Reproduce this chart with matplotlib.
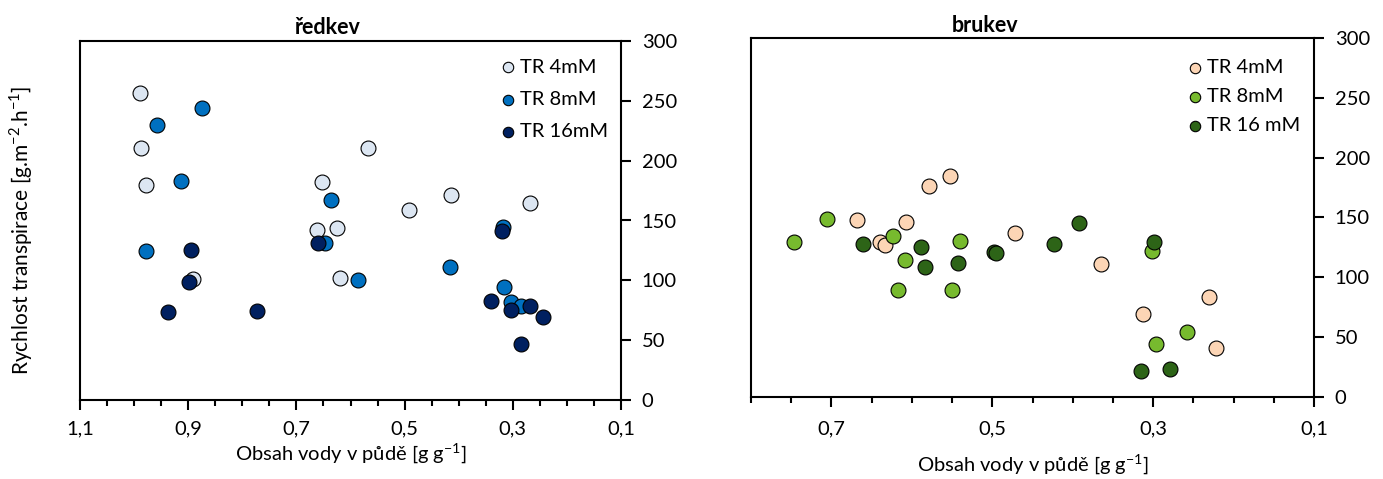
import matplotlib
matplotlib.use("Agg")
import matplotlib.pyplot as plt
from matplotlib.ticker import MultipleLocator

plt.rcParams['font.family'] = ['Lato', 'DejaVu Sans']

# ---- data: ředkev (radish) ----
r4_x = [0.990, 0.988, 0.978, 0.567, 0.652, 0.662, 0.625, 0.892, 0.620, 0.414, 0.268, 0.491]
r4_y = [256.7, 210.5, 179.4, 210.5, 182.0, 142.0, 144.0, 100.8, 102.2, 171.3, 164.8, 158.7]
r8_x = [0.875, 0.958, 0.913, 0.636, 0.648, 0.978, 0.587, 0.318, 0.417, 0.316, 0.304, 0.285]
r8_y = [244.0, 229.7, 183.0, 167.0, 131.0, 124.5, 100.5, 144.8, 111.0, 94.1, 81.6, 78.8]
r16_x = [0.660, 0.894, 0.899, 0.938, 0.772, 0.320, 0.340, 0.268, 0.304, 0.245, 0.285]
r16_y = [131.0, 125.3, 98.8, 73.2, 74.6, 141.4, 82.4, 78.8, 75.2, 69.3, 46.5]

# ---- data: brukev (turnip) ----
b4_x = [0.668, 0.579, 0.552, 0.607, 0.639, 0.634, 0.472, 0.365, 0.230, 0.313, 0.222]
b4_y = [147.9, 176.3, 184.9, 145.9, 129.8, 127.0, 136.7, 111.1, 83.3, 69.3, 41.2]
b8_x = [0.746, 0.705, 0.624, 0.540, 0.609, 0.617, 0.550, 0.301, 0.258, 0.297]
b8_y = [129.5, 148.7, 134.5, 130.6, 114.5, 89.4, 89.7, 122.0, 54.0, 44.0]
b16_x = [0.661, 0.589, 0.584, 0.543, 0.498, 0.495, 0.423, 0.392, 0.299, 0.315, 0.279]
b16_y = [127.8, 125.0, 108.3, 112.2, 121.4, 120.0, 127.5, 145.6, 129.7, 22.0, 23.7]

left_xticks = [1.1, 0.9, 0.7, 0.5, 0.3, 0.1]
left_xlabels = ["1,1", "0,9", "0,7", "0,5", "0,3", "0,1"]
right_xticks = [0.7, 0.5, 0.3, 0.1]
right_xlabels = ["0,7", "0,5", "0,3", "0,1"]
yticks = [0, 50, 100, 150, 200, 250, 300]

W, H = 1383, 479
fig = plt.figure(figsize=(W / 100, H / 100), dpi=100)

def frac(x0, y0, x1, y1):
    return [x0 / W, 1 - y1 / H, (x1 - x0) / W, (y1 - y0) / H]

axL = fig.add_axes(frac(80, 41, 621, 400))
axR = fig.add_axes(frac(751, 38, 1314, 397))

S = 115
kw = dict(s=S, edgecolors='black', linewidths=0.8)

axL.scatter(r4_x, r4_y, color='#DCE6F2', label='TR 4mM', zorder=3, **kw)
axL.scatter(r8_x, r8_y, color='#0070C0', label='TR 8mM', zorder=4, **kw)
axL.scatter(r16_x, r16_y, color='#002060', label='TR 16mM', zorder=5, **kw)

axR.scatter(b4_x, b4_y, color='#FCD5B5', label='TR 4mM', zorder=3, **kw)
axR.scatter(b8_x, b8_y, color='#77BA2E', label='TR 8mM', zorder=4, **kw)
axR.scatter(b16_x, b16_y, color='#2D6417', label='TR 16 mM', zorder=5, **kw)

for ax in (axL, axR):
    ax.set_ylim(0, 300)
    ax.set_yticks(yticks)
    ax.yaxis.tick_right()
    ax.xaxis.set_minor_locator(MultipleLocator(0.05))
    ax.tick_params(axis='both', which='major', direction='out', length=7,
                   width=1.5, labelsize=14.5, colors='black')
    ax.tick_params(axis='x', which='minor', direction='out', length=4, width=1.5)
    ax.tick_params(axis='x', which='major', pad=8)
    ax.tick_params(axis='y', which='major', pad=8)
    for sp in ax.spines.values():
        sp.set_linewidth(1.5)

axL.set_xlim(1.1, 0.1)
axL.set_xticks(left_xticks)
axL.set_xticklabels(left_xlabels)
axR.set_xlim(0.8, 0.1)
axR.set_xticks(right_xticks)
axR.set_xticklabels(right_xlabels)
axR.tick_params(axis='x', which='major', pad=10)

axL.set_xlabel('Obsah vody v půdě [g g$^{\\mathregular{-1}}$]', fontsize=14.5, labelpad=3)
axR.set_xlabel('Obsah vody v půdě [g g$^{\\mathregular{-1}}$]', fontsize=14.5, labelpad=11)
fig.text(21 / W, 1 - 230 / H,
         'Rychlost transpirace [g.m$^{\\mathregular{-2}}$.h$^{\\mathregular{-1}}$]',
         rotation=90, fontsize=15, ha='center', va='center')

fig.text(327 / W, 1 - 27 / H, 'ředkev', fontsize=15.5, fontweight='bold',
         ha='center', va='center')
fig.text(985 / W, 1 - 25 / H, 'brukev', fontsize=15.5, fontweight='bold',
         ha='center', va='center')

legL = axL.legend(loc='upper left', bbox_to_anchor=(0.747, 0.99), frameon=False,
                  fontsize=14.5, handletextpad=0.1, labelspacing=0.75,
                  markerscale=0.7, borderaxespad=0.3, handlelength=1.0)
legR = axR.legend(loc='upper left', bbox_to_anchor=(0.745, 0.98), frameon=False,
                  fontsize=14.5, handletextpad=0.1, labelspacing=0.58,
                  markerscale=0.7, borderaxespad=0.3, handlelength=1.0)

fig.savefig('out.png', dpi=100, facecolor='white')
